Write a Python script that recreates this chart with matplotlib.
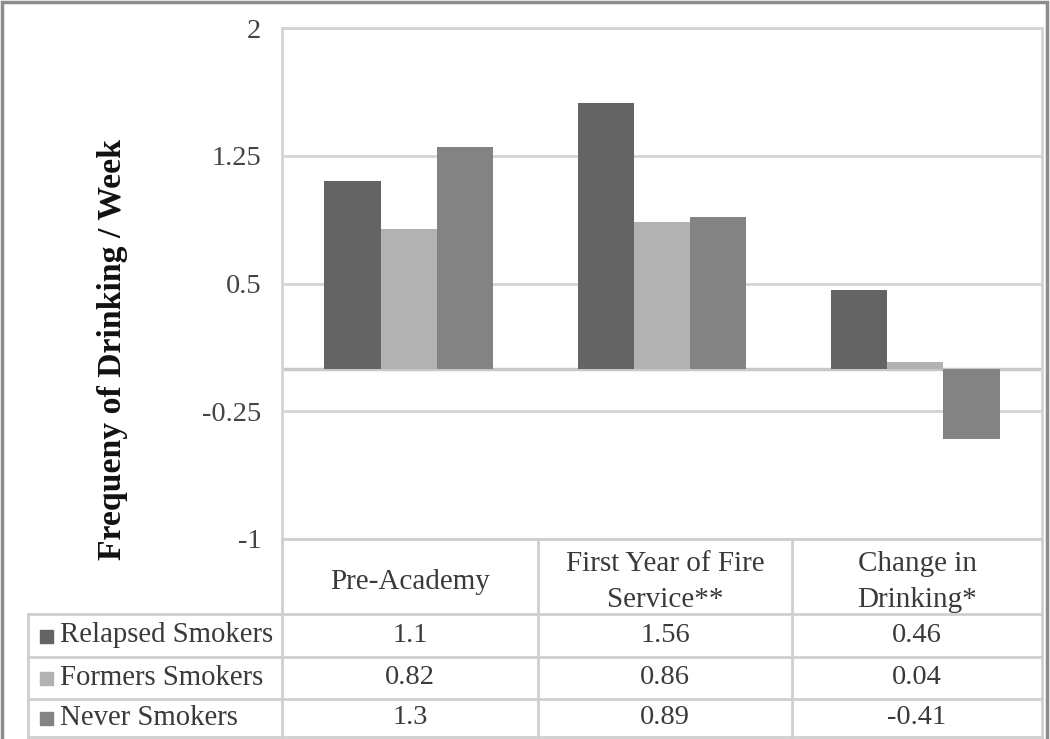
import matplotlib
matplotlib.use("Agg")
import matplotlib.pyplot as plt
from matplotlib.lines import Line2D
from matplotlib.patches import Rectangle

categories = ["Pre-Academy", "First Year of Fire\nService**", "Change in\nDrinking*"]
series_names = ["Relapsed Smokers", "Formers Smokers", "Never Smokers"]
relapsed = [1.1, 1.56, 0.46]
formers = [0.82, 0.86, 0.04]
never = [1.3, 0.89, -0.41]
value_labels = [["1.1", "1.56", "0.46"], ["0.82", "0.86", "0.04"], ["1.3", "0.89", "-0.41"]]
yticks = [-1, -0.25, 0.5, 1.25, 2]
ytick_labels = ["-1", "-0.25", "0.5", "1.25", "2"]
ylabel = "Frequeny of Drinking / Week"

colors = ["#646464", "#b2b2b2", "#838383"]
grid_c = "#d4d4d4"
text_c = "#3a3a3a"

W, H = 1050, 739
fig = plt.figure(figsize=(W / 100, H / 100), dpi=100)
plt.rcParams['font.family'] = ['Liberation Serif', 'DejaVu Serif']

def fx(x):
    return x / W

def fy(y):
    return 1 - y / H

L, R, T, B = 282, 1042, 28, 539
ax = fig.add_axes([fx(L), fy(B), fx(R) - fx(L), fy(T) - fy(B)])
ax.set_xlim(0, 3)
ax.set_ylim(-1, 2)
ax.set_yticks(yticks)
ax.set_yticklabels(ytick_labels, fontsize=20.5, color="#444444")
ax.tick_params(axis='y', length=0, pad=15)
ax.set_xticks([])
ax.yaxis.grid(True, color=grid_c, linewidth=2)
ax.set_axisbelow(True)
ax.axhline(0, color="#c8c8c8", linewidth=2.5, zorder=1)
for s in ax.spines.values():
    s.set_color(grid_c)
    s.set_linewidth(2)
ax.spines['bottom'].set_visible(False)

bw = 0.222
all_series = [relapsed, formers, never]
for i, (vals, c) in enumerate(zip(all_series, colors)):
    xs = [k + 0.5 + (i - 1) * bw for k in range(len(categories))]
    ax.bar(xs, vals, width=bw, color=c, edgecolor=c, linewidth=0, zorder=3)

fig.text(fx(113), fy(349), ylabel, rotation=90, ha='center', va='center',
         fontsize=24.3, fontweight='bold', color='#111111')

# Table
tc = "#cfcfcf"
def hline(y, x0, x1):
    fig.add_artist(Line2D([fx(x0), fx(x1)], [fy(y), fy(y)], color=tc, linewidth=2, transform=fig.transFigure))

def vline(x, y0, y1):
    fig.add_artist(Line2D([fx(x), fx(x)], [fy(y0), fy(y1)], color=tc, linewidth=2, transform=fig.transFigure))

col_x = [282, 538, 792, 1042]
row_y = [539, 614, 657, 699, 737]
hline(row_y[0], col_x[0], col_x[-1])
for y in row_y[1:]:
    hline(y, 28, col_x[-1])
for x in col_x:
    vline(x, row_y[0], H)
vline(28, row_y[1], H)

for j, cat in enumerate(categories):
    cx = (col_x[j] + col_x[j + 1]) / 2
    fig.text(fx(cx), fy(582), cat, ha='center', va='center',
             fontsize=21, color=text_c, linespacing=1.5)

for i, name in enumerate(series_names):
    cy = (row_y[i + 1] + row_y[i + 2]) / 2
    fig.add_artist(Rectangle((fx(40), fy(cy + 7)), fx(13), fy(0) - fy(13), color=colors[i],
                             transform=fig.transFigure))
    fig.text(fx(60), fy(cy), name, ha='left', va='center', fontsize=20.7, color=text_c)
    for j in range(len(categories)):
        cx = (col_x[j] + col_x[j + 1]) / 2
        fig.text(fx(cx), fy(cy), value_labels[i][j], ha='center', va='center',
                 fontsize=20.5, color=text_c)

# outer border
fig.add_artist(Rectangle((fx(2), fy(H + 5)), fx(1045), fy(2) - fy(H + 5), fill=False,
                         edgecolor="#8c8c8c", linewidth=2.5, transform=fig.transFigure))

fig.savefig("out.png", dpi=100)
